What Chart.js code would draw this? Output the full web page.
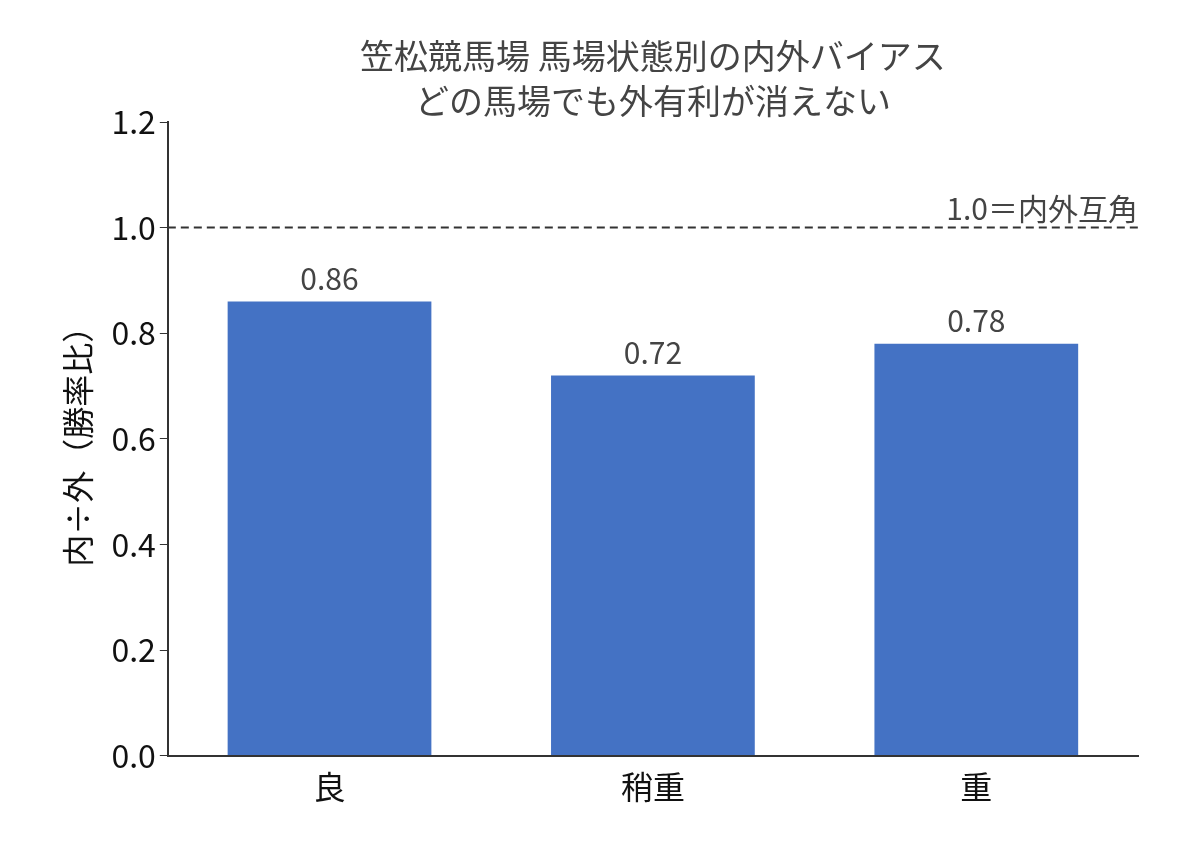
<!DOCTYPE html>
<html><head><meta charset="utf-8">
<script src="https://cdn.jsdelivr.net/npm/chart.js@4"></script>
<style>html,body{margin:0;padding:0;background:#fff}#w{width:1188px;height:858px}</style>
</head><body><div id="w"><canvas id="c"></canvas></div>
<script>
const categories = ['良', '稍重', '重'];
const ratios = [0.86, 0.72, 0.78];
const yTicks = [0, 0.2, 0.4, 0.6, 0.8, 1.0, 1.2];
const refValue = 1.0;
const refLabel = '1.0＝内外互角';
const titleLines = ['笠松競馬場 馬場状態別の内外バイアス', 'どの馬場でも外有利が消えない'];
const yTitle = '内÷外（勝率比）';
const F = '"Noto Sans CJK JP", "Noto Sans", sans-serif';

const overlay = {
  id: 'overlay',
  afterDatasetsDraw(chart) {
    const {ctx, chartArea, scales} = chart;
    const y = scales.y.getPixelForValue(refValue);
    ctx.save();
    ctx.fillStyle = '#444'; ctx.font = '34px ' + F;
    ctx.textAlign = 'center'; ctx.textBaseline = 'middle';
    const cx = (chartArea.left + chartArea.right) / 2;
    ctx.fillText(titleLines[0], cx, 56);
    ctx.fillText(titleLines[1], cx, 101);
    ctx.strokeStyle = '#333'; ctx.lineWidth = 2; ctx.setLineDash([8, 5]);
    ctx.beginPath(); ctx.moveTo(chartArea.left, y); ctx.lineTo(chartArea.right, y); ctx.stroke();
    ctx.setLineDash([]);
    ctx.font = '30px ' + F;
    ctx.textAlign = 'right'; ctx.textBaseline = 'bottom';
    ctx.fillText(refLabel, chartArea.right, y - 4);
    const meta = chart.getDatasetMeta(0);
    ctx.textAlign = 'center';
    meta.data.forEach((bar, i) => {
      ctx.fillText(ratios[i].toFixed(2), bar.x, bar.y - 8);
    });
    ctx.restore();
  }
};

new Chart(document.getElementById('c'), {
  type: 'bar',
  data: { labels: categories, datasets: [{ data: ratios, backgroundColor: '#4472C4', categoryPercentage: 1, barPercentage: 0.63 }] },
  options: {
    responsive: true, maintainAspectRatio: false, animation: false,
    layout: { padding: { left: 55, right: 50, top: 122, bottom: 48 } },
    plugins: { legend: { display: false }, tooltip: { enabled: false }, title: { display: false } },
    scales: {
      x: {
        grid: { display: false, drawOnChartArea: false, drawTicks: true, tickLength: 8, color: '#333' },
        border: { display: true, color: '#333', width: 2 },
        ticks: { color: '#111', font: { family: F, size: 32 }, padding: 4 }
      },
      y: {
        min: 0, max: 1.2,
        afterBuildTicks(s) { s.ticks = yTicks.map(v => ({ value: v })); },
        grid: { drawOnChartArea: false, drawTicks: true, tickLength: 8, color: '#333' },
        border: { display: true, color: '#333', width: 2 },
        ticks: { color: '#111', font: { family: F, size: 32 }, padding: 4, callback: v => Number(v).toFixed(1) },
        title: { display: true, text: yTitle, color: '#111', font: { family: F, size: 32 }, padding: { bottom: 10 } }
      }
    }
  },
  plugins: [overlay]
});
</script></body></html>
